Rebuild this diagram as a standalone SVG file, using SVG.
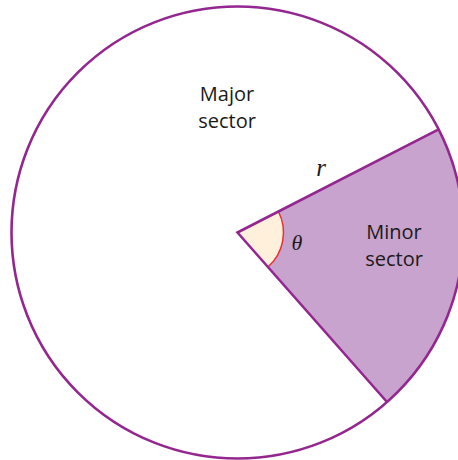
<svg xmlns="http://www.w3.org/2000/svg" width="458" height="460" viewBox="0 0 458 460">
<style>
.edge{stroke:#93278f;stroke-width:2.6;fill:none}
.lbl{font-family:"Open Sans","Noto Sans",sans-serif;font-size:20px;fill:#1a1a1a;text-anchor:middle}
.sym{font-family:"Liberation Serif",serif;font-style:italic;fill:#1a1a1a;text-anchor:middle}
</style>
<rect width="458" height="460" fill="#fff"/>
<g id="minor-sector">
<path d="M237.5 232.5 L438.6 129.4 A226 226 0 0 1 387 402 Z" fill="#c8a3ce"/>
</g>
<g id="angle">
<path d="M237.5 232.5 L278.4 211.5 A46 46 0 0 1 267.9 267 Z" fill="#fff0dc"/>
<path d="M278.4 211.5 A46 46 0 0 1 267.9 267" fill="none" stroke="#e8302f" stroke-width="1.5"/>
</g>
<g id="connectors">
<circle class="edge" cx="237.5" cy="232.5" r="226"/>
<path class="edge" d="M438.6 129.4 L237.5 232.5 L387 402" stroke-linejoin="miter"/>
</g>
<g id="labels">
<text class="lbl" x="227" y="101">Major</text>
<text class="lbl" x="227" y="128">sector</text>
<text class="lbl" x="394" y="239">Minor</text>
<text class="lbl" x="394" y="266">sector</text>
<text class="sym" x="321" y="176" font-size="25">r</text>
<text class="sym" x="297" y="250" font-size="22">θ</text>
</g>
</svg>
